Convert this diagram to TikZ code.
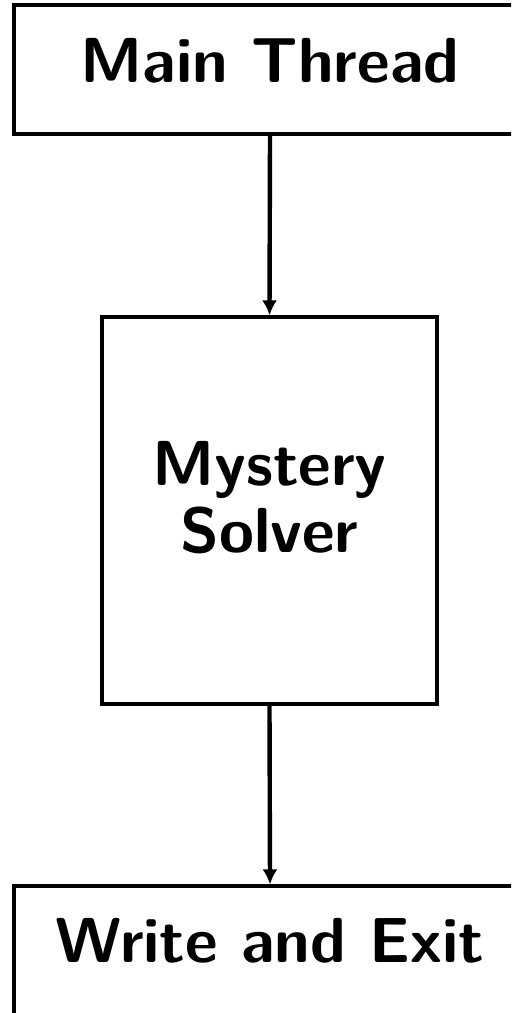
\documentclass[tikz,border=0pt]{standalone}
\usetikzlibrary{arrows.meta}
\tikzset{>={Latex[length=7.5pt,width=7.5pt]}}
\tikzset{stagebox/.style={draw, line width=1.6pt, inner sep=0pt, align=center,
    font=\sffamily\bfseries\fontsize{31.8}{33.5}\selectfont}}

\begin{document}
\begin{tikzpicture}[x=0.5pt, y=-0.5pt]

    \def\W{511};
    \def\H{1013};
    \useasboundingbox (0, 0) rectangle (\W, \H);
    \clip (0, 0) rectangle (\W, \H);
    \node[stagebox, minimum width=256pt, minimum height=64.5pt, text depth=9pt] (main) at (270, 69.5) {Main Thread};
    \node[stagebox, minimum width=167.5pt, minimum height=193.5pt, text depth=13.5pt] (solver) at (269.5, 510.5) {Mystery\\Solver};
    \node[stagebox, minimum width=256pt, minimum height=64.5pt, text depth=10pt] (exit) at (270, 950.5) {Write and Exit};
    \draw[->, line width=2.2pt] (main.south) -- (solver.north);
    \draw[->, line width=2.2pt] (solver.south) -- (exit.north);

\end{tikzpicture}
\end{document}
